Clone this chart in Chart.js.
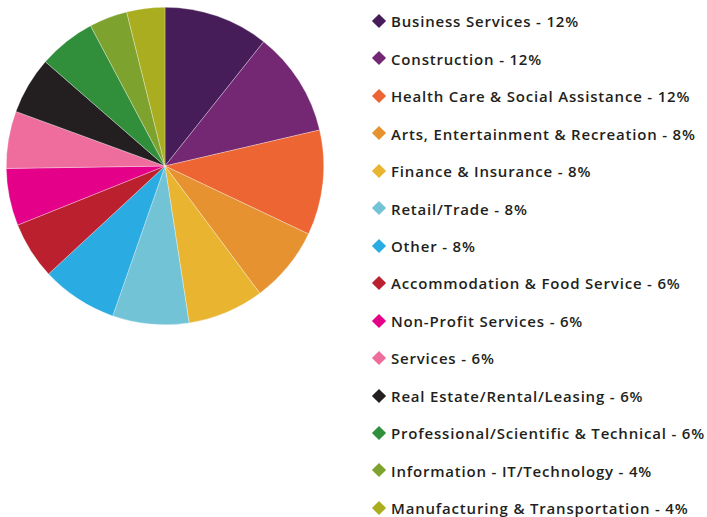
<!DOCTYPE html>
<html>
<head>
<meta charset="utf-8">
<script src="https://cdn.jsdelivr.net/npm/chart.js@4"></script>
<style>
  html, body { margin: 0; padding: 0; background: #ffffff; width: 707px; height: 517px; overflow: hidden; }
  #pieWrap { position: absolute; left: 6px; top: 7px; width: 318px; height: 318px; }
  #legend { position: absolute; left: 370px; top: 3.3px; margin: 0; padding: 0; list-style: none;
            font-family: "Open Sans", "Noto Sans", sans-serif; font-weight: 600; font-size: 15px; color: #231f20; }
  #legend li { height: 37.46px; line-height: 37.46px; white-space: nowrap; position: relative; padding-left: 21px; }
  #legend li span.mk { position: absolute; left: 4px; top: 50%; width: 10px; height: 10px; margin-top: -6px; transform: rotate(45deg); }
</style>
</head>
<body>
<div id="pieWrap"><canvas id="c"></canvas></div>
<ul id="legend"></ul>
<script>
const categories = [
  "Business Services",
  "Construction",
  "Health Care & Social Assistance",
  "Arts, Entertainment & Recreation",
  "Finance & Insurance",
  "Retail/Trade",
  "Other",
  "Accommodation & Food Service",
  "Non-Profit Services",
  "Services",
  "Real Estate/Rental/Leasing",
  "Professional/Scientific & Technical",
  "Information - IT/Technology",
  "Manufacturing & Transportation"
];
const values = [11, 11, 11, 8, 8, 8, 8, 6, 6, 6, 6, 6, 4, 4];
const percentLabels = ["12%", "12%", "12%", "8%", "8%", "8%", "8%", "6%", "6%", "6%", "6%", "6%", "4%", "4%"];
const colors = [
  "#471d59", "#742874", "#ec6532", "#e69230", "#e9b42f", "#73c3d6", "#2aabe2",
  "#bb202e", "#e5008a", "#ef6d9c", "#231f20", "#318f3c", "#7ea22e", "#a9ad1f"
];

new Chart(document.getElementById('c'), {
  type: 'pie',
  data: {
    labels: categories,
    datasets: [{
      data: values,
      backgroundColor: colors,
      borderColor: 'rgba(255,255,255,0.6)',
      borderWidth: 0.5
    }]
  },
  options: {
    responsive: true,
    maintainAspectRatio: false,
    animation: false,
    layout: { padding: 0 },
    plugins: { legend: { display: false }, tooltip: { enabled: false } }
  }
});

const ul = document.getElementById('legend');
const texts = categories.map((name, i) => name + ' - ' + percentLabels[i]);
// fit letter spacing so that the longest legend entry spans the same width as the reference
const mctx = document.createElement('canvas').getContext('2d');
mctx.font = '600 15px "Open Sans"';
const longest = texts[11];
const w = mctx.measureText(longest).width;
const ls = (314 - w) / longest.length;
ul.style.letterSpacing = ls.toFixed(3) + 'px';
texts.forEach((t, i) => {
  const li = document.createElement('li');
  const mk = document.createElement('span');
  mk.className = 'mk';
  mk.style.background = colors[i];
  li.appendChild(mk);
  li.appendChild(document.createTextNode(t));
  ul.appendChild(li);
});
</script>
</body>
</html>
